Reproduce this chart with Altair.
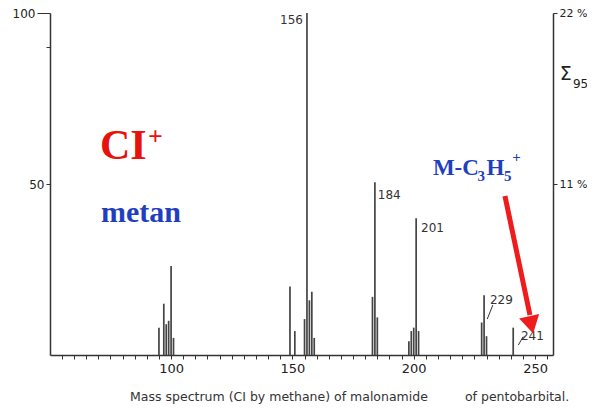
import altair as alt
import pandas as pd

# ---- spectrum data (m/z, relative intensity %) ----
mz = [95, 97, 98, 99, 100, 101,
      149, 151, 155, 156, 157, 158, 159,
      183, 184, 185,
      198, 199, 200, 201, 202,
      228, 229, 230,
      241]
intensity = [8, 15, 9, 10, 26, 5,
             20, 7, 10.5, 100, 16, 18.5, 5,
             17, 50.5, 11,
             4, 7, 8, 40, 7,
             9.5, 17.5, 5.5,
             8]

# ---- peak labels ----
peak_text = ["156", "184", "201", "229", "241"]
peak_x = [144.9, 185.2, 203.0, 231.4, 244.2]
peak_y = [98.0, 46.8, 37.1, 16.1, 5.6]

# leader lines for small peak labels
lead_x = [232.6, 245.1]
lead_y = [14.6, 5.35]
lead_x2 = [230.3, 243.1]
lead_y2 = [10.5, 2.9]

# axis ticks
x_ticks = list(range(55, 256, 5))
y_ticks = [50, 90, 100]
right_ticks = [50, 100]

X_DOMAIN = [50.1, 257.4]
xs = alt.Scale(domain=X_DOMAIN, nice=False, zero=False)
ys = alt.Scale(domain=[0, 100], nice=False)

df = pd.DataFrame({"mz": mz, "intensity": intensity, "base": [0] * len(mz)})

AX_FONT = "DejaVu Sans"

bars = alt.Chart(df).mark_rule(color="#444444", strokeWidth=1.7).encode(
    x=alt.X("mz:Q", scale=xs, axis=alt.Axis(
        values=x_ticks, title=None, grid=False,
        labelExpr="(datum.value % 50 == 0 && datum.value >= 100) ? datum.label : ''",
        labelOverlap=False,
        tickSize=4, tickColor="#333", domainColor="#333", domainWidth=1.5,
        labelFont=AX_FONT, labelFontSize=13, labelColor="#222", labelPadding=3,
        labelFlush=False)),
    y=alt.Y("intensity:Q", scale=ys, axis=alt.Axis(
        values=y_ticks, title=None, grid=False,
        labelExpr="(datum.value == 50 || datum.value == 100) ? datum.label : ''",
        labelOverlap=False,
        tickSize={"condition": {"test": "datum.value == 100", "value": 13}, "value": 4},
        tickColor="#333", domainColor="#333", domainWidth=1.5,
        labelFont=AX_FONT, labelFontSize=12, labelColor="#222", labelPadding=2,
        labelFlush=False)),
    y2="base:Q",
)

right_axis = alt.Chart(df).mark_rule(opacity=0).encode(
    x=alt.X("mz:Q", scale=xs, axis=None),
    y=alt.Y("intensity:Q", scale=ys, axis=alt.Axis(
        orient="right", values=right_ticks, title=None, grid=False,
        labelExpr="datum.value == 100 ? '22 %' : '11 %'",
        labelOverlap=False,
        tickSize=4, tickColor="#333", domainColor="#333", domainWidth=1.5,
        labelFont=AX_FONT, labelFontSize=11, labelColor="#222", labelPadding=2,
        labelFlush=False)),
)

def enc(chart, **extra):
    return chart.encode(
        x=alt.X("x:Q", scale=xs, axis=None),
        y=alt.Y("y:Q", scale=ys, axis=None), **extra)

peak_df = pd.DataFrame({"t": peak_text, "x": peak_x, "y": peak_y})
peak_labels = enc(alt.Chart(peak_df).mark_text(
    align="left", baseline="middle", font=AX_FONT, fontSize=12, color="#333"), text="t:N")

lead_df = pd.DataFrame({"x": lead_x, "y": lead_y, "x2": lead_x2, "y2": lead_y2})
leaders = enc(alt.Chart(lead_df).mark_rule(color="#333", strokeWidth=1), x2="x2:Q", y2="y2:Q")

# ---- annotations ----
serif = "Liberation Serif"

def txt(items, **kw):
    d = pd.DataFrame(items, columns=["t", "x", "y"])
    return enc(alt.Chart(d).mark_text(align="left", baseline="alphabetic", **kw), text="t:N")

RED = "#e8120c"
BLUE = "#1f3fbf"

ci = txt([("CI", 70.7, 57.3)], font=serif, fontSize=42, fontWeight="bold", color=RED)
ci_plus = txt([("+", 90.5, 61.5)], font=serif, fontSize=26, fontWeight="bold", color=RED)
metan = txt([("metan", 71.1, 38.9)], font=serif, fontSize=30, fontWeight="bold", color=BLUE)

m_main = txt([("M-C", 207.9, 52.6), ("H", 230.0, 52.6)], font=serif, fontSize=23,
             fontWeight="bold", color=BLUE)
m_sub = txt([("3", 226.3, 51.0), ("5", 237.2, 51.0)], font=serif, fontSize=15,
            fontWeight="bold", color=BLUE)
m_sup = txt([("+", 240.6, 56.5)], font=serif, fontSize=15, fontWeight="bold", color=BLUE)

sigma = txt([("Σ", 260.2, 80.4)], font=AX_FONT, fontSize=19, color="#222")
sigma_sub = txt([("95", 265.6, 78.1)], font=AX_FONT, fontSize=12, color="#222")

caption = txt([("Mass spectrum (CI by methane) of malonamide", 83.1, -13.4),
               ("of pentobarbital.", 221.1, -13.4)],
              font=AX_FONT, fontSize=12.5, color="#333")

# red arrow
arrow_df = pd.DataFrame({"x": [237.6], "y": [46.5], "x2": [247.9], "y2": [11.7]})
arrow_line = enc(alt.Chart(arrow_df).mark_rule(color="#ee1c1c", strokeWidth=5),
                 x2="x2:Q", y2="y2:Q")
head_df = pd.DataFrame({"x": [248.4], "y": [8.8]})
arrow_head = enc(alt.Chart(head_df).mark_point(
    shape="triangle-down", filled=True, color="#ee1c1c", size=420, angle=347, opacity=1))

chart = alt.layer(
    bars, right_axis, peak_labels, leaders, ci, ci_plus, metan,
    m_main, m_sub, m_sup, sigma, sigma_sub, caption, arrow_line, arrow_head
).resolve_axis(x="independent", y="independent").properties(
    width=503, height=342,
    autosize=alt.AutoSizeParams(type="none"),
    padding={"left": 42, "top": 5, "right": 34, "bottom": 49},
    background="white",
).configure_view(stroke=None)

chart.save("out.html", embed_options={"renderer": "svg", "actions": False})
